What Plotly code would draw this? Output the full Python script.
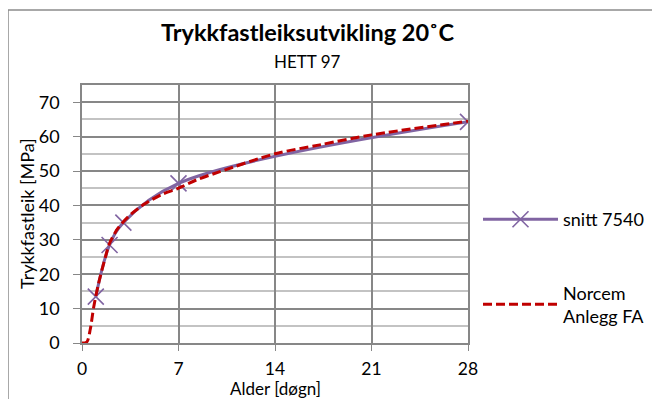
import plotly.graph_objects as go

# Data
snitt_x = [1, 2, 3, 7, 28]
snitt_y = [13.5, 28.5, 35.0, 46.4, 64.3]

norcem_x = [0, 0.35, 0.6, 0.85, 1.2, 1.7, 2.0, 2.6, 3.35, 4.5, 5.8, 7, 8.3, 10, 14, 17.25, 21, 28]
norcem_y = [0, 0.3, 4.0, 10.5, 17.3, 25.0, 29.0, 33.3, 36.7, 40.3, 43.2, 45.0, 47.4, 49.8, 55.0, 57.6, 60.5, 64.5]

x_ticks = [0, 7, 14, 21, 28]
y_ticks = [0, 10, 20, 30, 40, 50, 60, 70]

title_text = "<b>Trykkfastleiksutvikling 20˚C</b>"
subtitle_text = "HETT 97"
x_title = "Alder [døgn]"
y_title = "Trykkfastleik [MPa]"

FONT = "Lato"
OFF = 8  # page body margin
W, H = 660, 399
L, R, T, B = 82 - OFF, 468 - OFF, 85 - OFF, 343 - OFF

def px(xp):
    return (xp - OFF - L) / (R - L)

def py(yp):
    return (B - (yp - OFF)) / (B - T)

fig = go.Figure()
fig.add_trace(go.Scatter(
    x=snitt_x, y=snitt_y, name="snitt 7540", mode="lines+markers",
    line=dict(color="#8064a2", width=3, shape="spline", smoothing=1),
    marker=dict(symbol="x-thin", size=16, line=dict(color="#8064a2", width=1.6)),
    legendgroup="a",
))
fig.add_trace(go.Scatter(
    x=norcem_x, y=norcem_y, name="Norcem<br>Anlegg FA", mode="lines",
    line=dict(color="#c00000", width=3, dash="9px,4px", shape="spline", smoothing=0.8),
    legendgroup="b",
))

grid_major = "#878787"
grid_minor = "#c3c3c3"

fig.update_xaxes(
    range=[0, 28], tickvals=x_ticks, ticks="outside", ticklen=6, tickcolor=grid_major,
    showgrid=True, gridcolor=grid_major, gridwidth=1.5,
    showline=True, mirror=True, linecolor=grid_major, linewidth=1.5,
    zeroline=False, ticklabelstandoff=3,
    tickfont=dict(family=FONT, size=17.5, color="black"),
)
fig.update_yaxes(
    range=[0, 75], tickvals=y_ticks, ticks="outside", ticklen=7, tickcolor=grid_major,
    showgrid=True, gridcolor=grid_major, gridwidth=1.5,
    minor=dict(dtick=5, showgrid=True, gridcolor=grid_minor, gridwidth=1.5, ticks=""),
    showline=True, mirror=True, linecolor=grid_major, linewidth=1.5,
    zeroline=False, ticklabelstandoff=10,
    tickfont=dict(family=FONT, size=18, color="black"),
)

fig.update_layout(
    width=W, height=H,
    margin=dict(l=L, r=W - R, t=T, b=H - B, autoexpand=False),
    paper_bgcolor="white", plot_bgcolor="white",
    font=dict(family=FONT, size=18, color="black"),
    showlegend=True,
    legend=dict(
        x=px(478), y=py(201), xanchor="left", yanchor="top",
        font=dict(family=FONT, size=18, color="black"),
        itemwidth=75, tracegroupgap=47, traceorder="grouped",
        bgcolor="rgba(0,0,0,0)",
    ),
    shapes=[dict(
        type="rect", xref="paper", yref="paper",
        x0=px(8), x1=px(700), y0=py(440), y1=py(10),
        line=dict(color="#8c8c8c", width=1.5), fillcolor="rgba(0,0,0,0)", layer="below",
    )],
    annotations=[
        dict(text=title_text, x=px(307), y=py(32), xref="paper", yref="paper",
             showarrow=False, xanchor="center", yanchor="middle",
             font=dict(family=FONT, size=23.5, color="black")),
        dict(text=subtitle_text, x=px(307), y=py(61), xref="paper", yref="paper",
             showarrow=False, xanchor="center", yanchor="middle",
             font=dict(family=FONT, size=17, color="black")),
        dict(text=x_title, x=px(275), y=py(388), xref="paper", yref="paper",
             showarrow=False, xanchor="center", yanchor="middle",
             font=dict(family=FONT, size=17, color="black")),
        dict(text=y_title, x=px(27), y=py(214), xref="paper", yref="paper",
             showarrow=False, xanchor="center", yanchor="middle", textangle=-90,
             font=dict(family=FONT, size=18, color="black")),
    ],
)

fig.write_html("out.html")
